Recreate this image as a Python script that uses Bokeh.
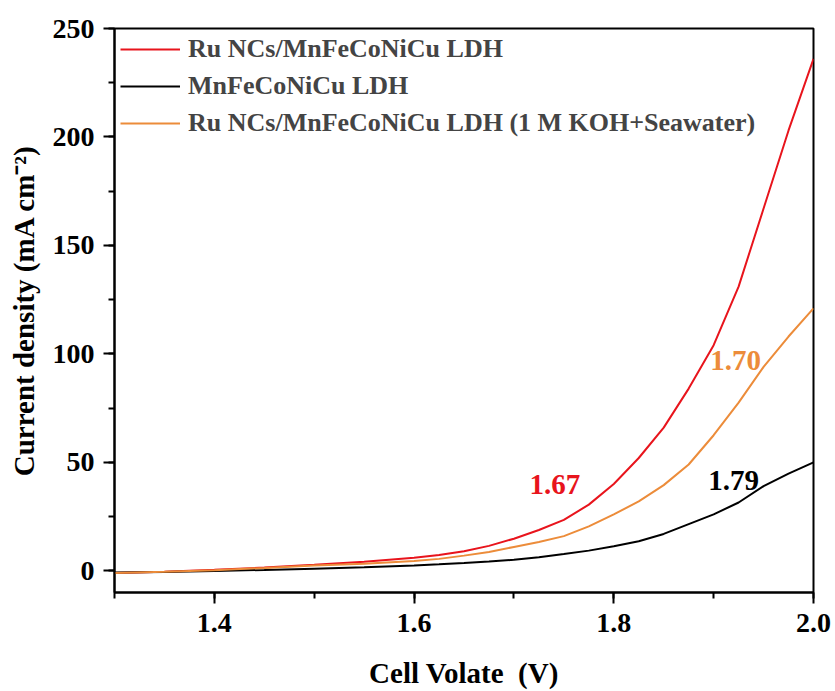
from bokeh.plotting import figure
from bokeh.models import SingleIntervalTicker, Range1d, Legend, LegendItem, Label, PrintfTickFormatter
from bokeh.embed import file_html
from bokeh.resources import INLINE

# ---- data ----
voltage = [1.30, 1.35, 1.40, 1.45, 1.50, 1.55, 1.60, 1.625, 1.65, 1.675, 1.70, 1.725, 1.75,
           1.775, 1.80, 1.825, 1.85, 1.875, 1.90, 1.925, 1.95, 1.975, 2.00]
ru_ldh = [-1.0, -0.4, 0.5, 1.5, 2.8, 4.2, 6.0, 7.3, 9.0, 11.5, 14.8, 18.8, 23.5,
          30.5, 40.0, 52.0, 66.0, 84.0, 104.0, 131.0, 167.0, 203.0, 236.0]
ldh = [-0.8, -0.5, -0.1, 0.4, 1.0, 1.6, 2.5, 3.0, 3.6, 4.3, 5.1, 6.2, 7.7,
       9.3, 11.3, 13.6, 17.0, 21.5, 26.0, 31.5, 39.0, 44.8, 50.0]
ru_sea = [-1.0, -0.4, 0.3, 1.3, 2.4, 3.3, 4.5, 5.5, 7.0, 8.7, 11.0, 13.3, 16.0,
          20.5, 26.0, 32.0, 39.5, 49.0, 62.5, 77.5, 94.0, 108.0, 121.0]

series_names = ["Ru NCs/MnFeCoNiCu LDH", "MnFeCoNiCu LDH",
                "Ru NCs/MnFeCoNiCu LDH (1 M KOH+Seawater)"]
series_colors = ["#e8141c", "#000000", "#ec8c3a"]

ann_text = ["1.67", "1.70", "1.79"]
ann_x = [1.741, 1.922, 1.920]
ann_y = [39.8, 96.8, 41.7]
ann_colors = ["#e8141c", "#ec8c3a", "#000000"]

x_ticks_interval = 0.2
y_ticks_interval = 50

FONT = "Liberation Serif"

p = figure(width=835, height=691, output_backend="svg", toolbar_location=None,
           x_range=Range1d(1.3, 2.0), y_range=Range1d(-10, 250),
           min_border_left=114, min_border_right=22, min_border_top=28, min_border_bottom=99)
p.background_fill_color = "white"
p.border_fill_color = "white"
p.grid.visible = False
p.outline_line_color = "black"
p.outline_line_width = 2

renderers = []
for ys, c in zip([ru_ldh, ldh, ru_sea], series_colors):
    r = p.line(voltage, ys, line_color=c, line_width=2)
    renderers.append(r)

legend = Legend(items=[LegendItem(label=n, renderers=[r]) for n, r in zip(series_names, renderers)],
                location="top_left")
legend.label_text_font = FONT
legend.label_text_font_style = "bold"
legend.label_text_font_size = "26px"
legend.glyph_width = 60
legend.glyph_height = 30
legend.label_height = 30
legend.label_standoff = 8
legend.spacing = 7
legend.padding = 6
legend.margin = 0
legend.border_line_alpha = 0
legend.background_fill_alpha = 0
p.add_layout(legend)

for t, x, y, c in zip(ann_text, ann_x, ann_y, ann_colors):
    p.add_layout(Label(x=x, y=y, text=t, text_color=c, text_font=FONT, text_font_style="bold",
                       text_font_size="29px", text_align="center", text_baseline="middle"))

p.xaxis.ticker = SingleIntervalTicker(interval=x_ticks_interval, num_minor_ticks=2)
p.yaxis.ticker = SingleIntervalTicker(interval=y_ticks_interval, num_minor_ticks=2)
p.xaxis.formatter = PrintfTickFormatter(format="%.1f")

for ax in (p.xaxis, p.yaxis):
    ax.axis_line_width = 2
    ax.major_tick_line_width = 2
    ax.minor_tick_line_width = 2
    ax.major_tick_in = 0
    ax.major_tick_out = 11
    ax.minor_tick_in = 0
    ax.minor_tick_out = 6
    ax.major_label_text_font = FONT
    ax.major_label_text_font_style = "bold"
    ax.major_label_text_font_size = "28px"
    ax.major_label_text_color = "black"
    ax.axis_label_text_font = FONT
    ax.axis_label_text_font_style = "bold"
    ax.axis_label_text_font_size = "29px"
    ax.axis_label_text_color = "black"

p.xaxis.major_label_standoff = 10
p.yaxis.major_label_standoff = 9
p.xaxis.axis_label = "Cell Volate\u00a0 (V)"
p.yaxis.axis_label = "Current density (mA cm\u207b\u00b2)"
p.xaxis.axis_label_standoff = 22
p.yaxis.axis_label_standoff = 10

open("out.html", "w").write(file_html(p, INLINE))
